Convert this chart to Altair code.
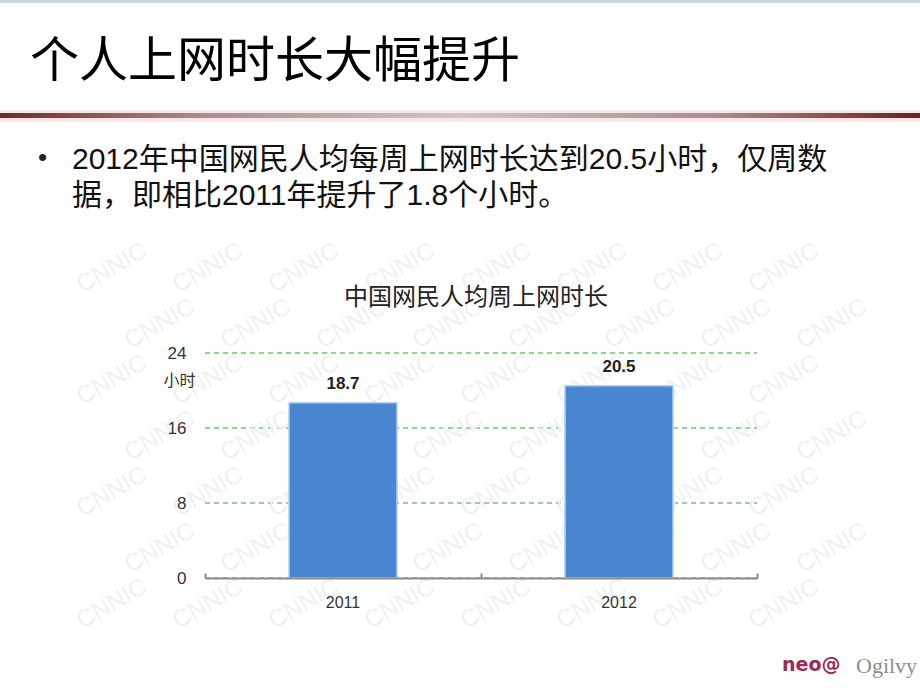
import altair as alt
import pandas as pd

# ---- data ----
years = ["2011", "2012"]
hours = [18.7, 20.5]
y_ticks = [0, 8, 16, 24]

slide_title = ["个人上网时长大幅提升"]
bullet_lines = ["2012年中国网民人均每周上网时长达到20.5小时，仅周数",
                "据，即相比2011年提升了1.8个小时。"]
chart_title = ["中国网民人均周上网时长"]
unit_label = "小时"
logo_neo = ["neo@"]
logo_ogilvy = ["Ogilvy"]
watermark_word = "CNNIC"

# ---- layout ----
W, H = 552, 225          # plot area
L, T = 205, 353          # plot origin on the 920x690 page
FONT = "Liberation Sans, Noto Sans CJK SC, sans-serif"
CJK = "Noto Sans CJK SC, sans-serif"

df = pd.DataFrame({"year": years, "hours": hours})

x_scale = alt.Scale(paddingInner=0, paddingOuter=0)
y_scale = alt.Scale(domain=[0, 24], nice=False)


def one(txt):
    return pd.DataFrame({"t": txt})


# decorative watermark pattern (background of the picture, not data)
wm_rows = []
for r, yy in enumerate(range(268, 640, 56)):
    shift = 0 if r % 2 == 0 else 48
    for xx in range(112 + shift, 840, 96):
        wm_rows.append({"px": xx - L, "py": yy - T, "t": watermark_word})
wm_df = pd.DataFrame(wm_rows)
watermark = alt.Chart(wm_df).mark_text(
    font="Liberation Sans", fontSize=24, color="#f1f1f1",
    angle=330, align="center", baseline="middle"
).encode(
    x=alt.X("px:Q", scale=None, axis=None),
    y=alt.Y("py:Q", scale=None, axis=None),
    text="t:N",
)

# top thin border
top_border = alt.Chart(one([""])).mark_rect(fill="#c9d5dc").encode(
    x=alt.value(-L), x2=alt.value(920 - L), y=alt.value(-T), y2=alt.value(-T + 3)
)

# red header rule (gradient)
glow = alt.Chart(one([""])).mark_rect(fill="#fbe6e6").encode(
    x=alt.value(-L), x2=alt.value(920 - L), y=alt.value(110 - T), y2=alt.value(122 - T)
)
red_rule = alt.Chart(one([""])).mark_rect(
    fill=alt.Gradient(
        gradient="linear",
        stops=[
            alt.GradientStop(color="#6f2a2d", offset=0),
            alt.GradientStop(color="#a58f90", offset=0.22),
            alt.GradientStop(color="#cdc6c6", offset=0.5),
            alt.GradientStop(color="#a58f90", offset=0.78),
            alt.GradientStop(color="#6b1e24", offset=1),
        ],
        x1=0, x2=1, y1=0, y2=0,
    )
).encode(x=alt.value(-L), x2=alt.value(920 - L), y=alt.value(113 - T), y2=alt.value(118 - T))

title_txt = alt.Chart(one(slide_title)).mark_text(
    font=CJK, fontSize=49, color="#000000", align="left", baseline="middle"
).encode(x=alt.value(30 - L), y=alt.value(62 - T), text="t:N")

bullet = alt.Chart(one(["•"])).mark_text(
    font=FONT, fontSize=26, color="#222222", align="left", baseline="middle"
).encode(x=alt.value(38 - L), y=alt.value(158 - T), text="t:N")

body = alt.Chart(one([""])).mark_text(
    font=FONT, fontSize=30, color="#111111", align="left", baseline="alphabetic", lineHeight=36
).encode(x=alt.value(72 - L), y=alt.value(169 - T), text=alt.value(bullet_lines))

ctitle = alt.Chart(one(chart_title)).mark_text(
    font=CJK, fontSize=24, color="#222222", align="center", baseline="middle"
).encode(x=alt.value(476 - L), y=alt.value(298 - T), text="t:N")

neo = alt.Chart(one(logo_neo)).mark_text(
    font="DejaVu Sans", fontSize=19, fontWeight="bold", color="#9a2a58", align="left", baseline="middle"
).encode(x=alt.value(782 - L), y=alt.value(665 - T), text="t:N")

ogilvy = alt.Chart(one(logo_ogilvy)).mark_text(
    font="Liberation Serif", fontSize=22, color="#8e8e8e", align="left", baseline="middle"
).encode(x=alt.value(856 - L), y=alt.value(666 - T), text="t:N")

# y axis split: grid behind the bars, labels above the watermark
y_grid_axis = alt.Axis(values=y_ticks, domain=False, ticks=False, labels=False, grid=True,
                       gridDash=[5, 4], gridColor="#94d494", gridWidth=2, title=None,
                       zindex=0, translate=0)
y_label_axis = alt.Axis(orient="left", values=y_ticks, domain=False, ticks=False, grid=False,
                        labelFontSize=17, labelPadding=19, labelColor="#333333", labelFont=FONT,
                        titleAngle=0, titleX=-42, titleY=27, titleAlign="left",
                        titleBaseline="middle", titleFontSize=16, titleFontWeight="normal",
                        titleColor="#333333", titleFont=CJK, zindex=1)

bars = alt.Chart(df).mark_bar(color="#4a86d0", stroke="#a9d2f2", strokeWidth=1.5, size=108).encode(
    x=alt.X(
        "year:N", sort=years, scale=x_scale, title=None,
        axis=alt.Axis(orient="bottom", domain=False, ticks=False, labelAngle=0,
                      labelFontSize=16, labelPadding=16, labelColor="#333333", labelFont=FONT,
                      zindex=1),
    ),
    y=alt.Y("hours:Q", scale=y_scale, title=None, axis=y_grid_axis),
)

labels = alt.Chart(df).mark_text(
    fontSize=17, fontWeight="bold", color="#222222", dy=-19, baseline="middle", font=FONT
).encode(
    x=alt.X(
        "year:N", sort=years, scale=x_scale, title=None,
        axis=alt.Axis(orient="top", offset=-H, labels=False, domain=True,
                      domainColor="#8a8a8a", domainWidth=2, ticks=True, tickBand="extent",
                      tickSize=5, tickColor="#8a8a8a", tickWidth=2, grid=False, zindex=1),
    ),
    y=alt.Y("hours:Q", scale=y_scale, title=unit_label, axis=y_label_axis),
    text=alt.Text("hours:Q", format=".1f"),
)

chart = alt.layer(
    watermark, top_border, glow, red_rule, title_txt, bullet, body, ctitle, neo, ogilvy, bars, labels
).resolve_axis(x="independent", y="independent").properties(
    width=W, height=H,
    autosize=alt.AutoSizeParams(type="none"),
    padding={"left": L, "top": T, "right": 920 - L - W, "bottom": 690 - T - H},
    background="white",
).configure_view(stroke=None)

chart.save("out.html", embed_options={"renderer": "svg", "actions": False})
